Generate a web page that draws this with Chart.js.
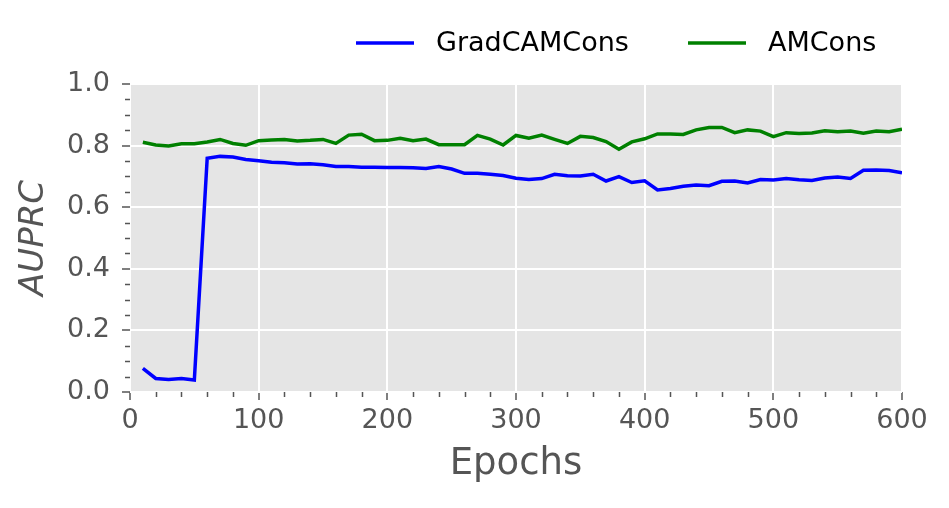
<!DOCTYPE html>
<html lang="en">
<head>
    <meta charset="UTF-8">
    <title>AUPRC vs Epochs</title>
    <style>
        html, body { margin: 0; padding: 0; background: #fff; }
        #chart-box { width: 949px; height: 508px; }
    </style>
</head>
<body>
    <div id="chart-box">
        <canvas id="auprc-chart" width="949" height="508"></canvas>
    </div>

    <script src="https://cdn.jsdelivr.net/npm/chart.js"></script>
    <script>
        // Data
        const epochs = [10, 20, 30, 40, 50, 60, 70, 80, 90, 100,
            110, 120, 130, 140, 150, 160, 170, 180, 190, 200,
            210, 220, 230, 240, 250, 260, 270, 280, 290, 300,
            310, 320, 330, 340, 350, 360, 370, 380, 390, 400,
            410, 420, 430, 440, 450, 460, 470, 480, 490, 500,
            510, 520, 530, 540, 550, 560, 570, 580, 590, 600];

        const gradCamCons = [0.077, 0.044, 0.041, 0.044, 0.039, 0.759, 0.765, 0.763, 0.755, 0.751,
            0.746, 0.744, 0.740, 0.741, 0.738, 0.732, 0.732, 0.730, 0.730, 0.729,
            0.729, 0.728, 0.726, 0.732, 0.724, 0.710, 0.710, 0.707, 0.703, 0.694,
            0.690, 0.693, 0.707, 0.702, 0.701, 0.707, 0.685, 0.699, 0.680, 0.686,
            0.656, 0.661, 0.668, 0.672, 0.670, 0.684, 0.685, 0.679, 0.690, 0.688,
            0.693, 0.689, 0.687, 0.695, 0.698, 0.693, 0.720, 0.721, 0.719, 0.712];

        const amCons = [0.811, 0.802, 0.799, 0.806, 0.806, 0.812, 0.820, 0.807, 0.801, 0.816,
            0.818, 0.820, 0.815, 0.817, 0.820, 0.807, 0.834, 0.837, 0.816, 0.817,
            0.824, 0.816, 0.821, 0.803, 0.803, 0.803, 0.833, 0.821, 0.802, 0.833,
            0.824, 0.834, 0.820, 0.807, 0.830, 0.826, 0.813, 0.788, 0.812, 0.822,
            0.838, 0.838, 0.836, 0.851, 0.859, 0.859, 0.842, 0.851, 0.847, 0.829,
            0.842, 0.839, 0.841, 0.848, 0.845, 0.847, 0.840, 0.847, 0.845, 0.853];

        const seriesNames = ['GradCAMCons', 'AMCons'];
        const seriesColors = ['#0000ff', '#008000'];

        const tickFont = { family: 'DejaVu Sans', size: 27 };
        const titleFont = { family: 'DejaVu Sans', size: 37 };

        // grey panel behind the plot
        const panelBackground = {
            id: 'panelBackground',
            beforeDraw(chart) {
                const { ctx, chartArea } = chart;
                ctx.save();
                ctx.fillStyle = '#e5e5e5';
                ctx.fillRect(chartArea.left, chartArea.top,
                    chartArea.right - chartArea.left, chartArea.bottom - chartArea.top);
                ctx.restore();
            }
        };

        // small minor tick marks outside the panel
        const minorTicks = {
            id: 'minorTicks',
            afterDraw(chart) {
                const { ctx, chartArea, scales } = chart;
                ctx.save();
                ctx.strokeStyle = '#555555';
                ctx.lineWidth = 1.5;
                ctx.beginPath();
                for (let v = 20; v < 600; v += 20) {
                    if (v % 100 === 0) continue;
                    const px = Math.round(scales.x.getPixelForValue(v)) + 0.5;
                    ctx.moveTo(px, chartArea.bottom);
                    ctx.lineTo(px, chartArea.bottom + 5);
                }
                for (let i = 1; i < 20; i++) {
                    if (i % 4 === 0) continue;
                    const py = Math.round(scales.y.getPixelForValue(i * 0.05)) + 0.5;
                    ctx.moveTo(chartArea.left, py);
                    ctx.lineTo(chartArea.left - 5, py);
                }
                ctx.stroke();
                ctx.restore();
            }
        };

        // legend above the panel, right side
        const topLegend = {
            id: 'topLegend',
            afterDraw(chart) {
                const { ctx } = chart;
                const items = [
                    { x: 356, textX: 436 },
                    { x: 688, textX: 768 }
                ];
                ctx.save();
                ctx.font = '27px "DejaVu Sans"';
                ctx.textBaseline = 'middle';
                items.forEach((item, i) => {
                    ctx.strokeStyle = seriesColors[i];
                    ctx.lineWidth = 3.5;
                    ctx.beginPath();
                    ctx.moveTo(item.x, 43);
                    ctx.lineTo(item.x + 58, 43);
                    ctx.stroke();
                    ctx.fillStyle = '#000000';
                    ctx.fillText(seriesNames[i], item.textX, 44);
                });
                ctx.restore();
            }
        };

        function toPoints(values) {
            return epochs.map((e, i) => ({ x: e, y: values[i] }));
        }

        new Chart(document.getElementById('auprc-chart'), {
            type: 'line',
            data: {
                datasets: [{
                    label: seriesNames[0],
                    data: toPoints(gradCamCons),
                    borderColor: seriesColors[0],
                    borderWidth: 3.5,
                    pointRadius: 0,
                    tension: 0,
                    fill: false
                }, {
                    label: seriesNames[1],
                    data: toPoints(amCons),
                    borderColor: seriesColors[1],
                    borderWidth: 3.5,
                    pointRadius: 0,
                    tension: 0,
                    fill: false
                }]
            },
            options: {
                responsive: false,
                animation: false,
                layout: { padding: { top: 84, right: 47, left: 0, bottom: 0 } },
                plugins: {
                    legend: { display: false },
                    tooltip: { enabled: false }
                },
                scales: {
                    x: {
                        type: 'linear',
                        min: 0,
                        max: 600,
                        afterFit: (scale) => { scale.height = 116; },
                        border: { display: false },
                        grid: {
                            color: '#ffffff',
                            lineWidth: 2,
                            tickColor: '#555555',
                            tickLength: 8,
                            tickWidth: 1.5
                        },
                        ticks: {
                            stepSize: 100,
                            color: '#555555',
                            font: tickFont,
                            padding: 5,
                            maxRotation: 0
                        },
                        title: {
                            display: true,
                            text: 'Epochs',
                            color: '#555555',
                            font: titleFont,
                            padding: { top: 0, bottom: 21 }
                        }
                    },
                    y: {
                        min: 0,
                        max: 1,
                        afterFit: (scale) => { scale.width = 130; },
                        border: { display: false },
                        grid: {
                            color: '#ffffff',
                            lineWidth: 2,
                            tickColor: '#555555',
                            tickLength: 8,
                            tickWidth: 1.5
                        },
                        ticks: {
                            stepSize: 0.2,
                            color: '#555555',
                            font: tickFont,
                            padding: 12,
                            callback: (v) => v.toFixed(1)
                        },
                        title: {
                            display: true,
                            text: 'AUPRC',
                            color: '#555555',
                            font: { family: 'DejaVu Sans', size: 34, style: 'italic' },
                            padding: { top: 14, bottom: 0 }
                        }
                    }
                }
            },
            plugins: [panelBackground, minorTicks, topLegend]
        });
    </script>
</body>
</html>
